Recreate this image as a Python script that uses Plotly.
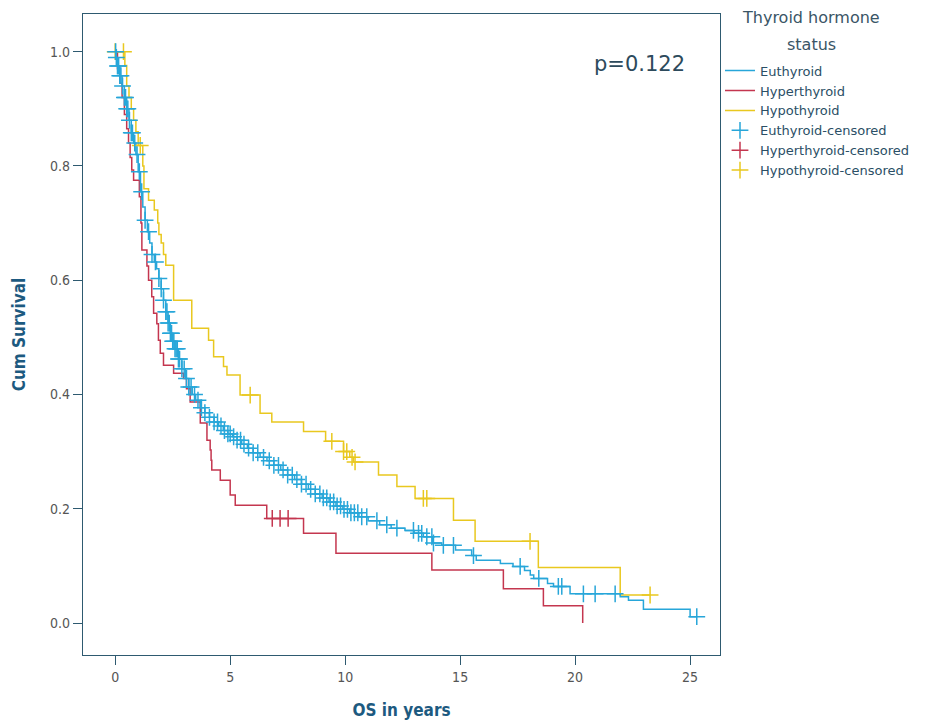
import numpy as np
import plotly.graph_objects as go

# ---------------- data ----------------
eu_time = [0, 0.03, 0.1, 0.2, 0.3, 0.4, 0.5, 0.6, 0.7, 0.8, 0.9, 1.0, 1.1, 1.2, 1.3, 1.4, 1.5,
           1.6, 1.7, 1.8, 1.9, 2.0, 2.1, 2.2, 2.3, 2.4, 2.5, 2.6, 2.75, 2.9, 3.05, 3.2, 3.35,
           3.5, 3.7, 3.9, 4.1, 4.3, 4.5, 4.7, 4.9, 5.1, 5.3, 5.5, 5.75, 6.0, 6.3, 6.6, 6.9,
           7.2, 7.5, 7.8, 8.1, 8.4, 8.7, 9.0, 9.3, 9.6, 9.9, 10.2, 10.6, 11.0, 11.5, 12.0,
           12.6, 13.0, 13.4, 13.8, 14.2, 14.8, 15.5, 15.7, 16.75, 17.3, 17.8, 18.05, 18.2,
           18.8, 19.06, 19.78, 21.96, 22.32, 22.97, 25.0]
eu_surv = [1.0, 0.99, 0.975, 0.958, 0.94, 0.92, 0.90, 0.88, 0.858, 0.84, 0.82, 0.79, 0.755,
           0.728, 0.705, 0.685, 0.665, 0.645, 0.632, 0.62, 0.603, 0.585, 0.565, 0.545, 0.525,
           0.507, 0.493, 0.48, 0.462, 0.445, 0.428, 0.413, 0.40, 0.39, 0.377, 0.368, 0.36,
           0.352, 0.345, 0.337, 0.331, 0.326, 0.32, 0.313, 0.306, 0.298, 0.29, 0.284, 0.276,
           0.268, 0.259, 0.251, 0.243, 0.234, 0.226, 0.219, 0.212, 0.205, 0.199, 0.193, 0.186,
           0.179, 0.172, 0.166, 0.162, 0.157, 0.151, 0.14, 0.136, 0.128, 0.118, 0.110, 0.104,
           0.099, 0.092, 0.084, 0.078, 0.069, 0.064, 0.051, 0.046, 0.040, 0.024, 0.011]
eu_cens = [0.02, 0.05, 0.1, 0.15, 0.2, 0.25, 0.32, 0.4, 0.45, 0.5, 0.55, 0.62, 0.7, 0.75, 0.85,
           0.95, 1.05, 1.15, 1.3, 1.45, 1.6, 1.75, 1.9, 2.0, 2.1, 2.2, 2.25, 2.3, 2.35, 2.4,
           2.45, 2.5, 2.55, 2.6, 2.65, 2.7, 2.75, 2.8, 2.9, 3.0, 3.1, 3.2, 3.3, 3.45, 3.6, 3.75,
           3.9, 4.1, 4.3, 4.45, 4.6, 4.75, 4.9, 5.0, 5.15, 5.3, 5.45, 5.6, 5.8, 6.0, 6.2, 6.45,
           6.7, 6.9, 7.1, 7.3, 7.5, 7.7, 7.9, 8.1, 8.3, 8.5, 8.7, 8.9, 9.05, 9.2, 9.35, 9.5,
           9.65, 9.8, 9.95, 10.1, 10.25, 10.4, 10.55, 10.72, 10.94, 11.38, 11.81, 12.25, 12.97,
           13.19, 13.33, 13.55, 13.77, 13.84, 14.27, 14.71, 15.58, 17.61, 18.42, 19.27, 19.42,
           20.36, 20.87, 21.74, 25.29]

hyper_time = [0, 0.1, 0.2, 0.3, 0.4, 0.5, 0.58, 0.65, 0.72, 0.8, 1.05, 1.12, 1.16, 1.38, 1.45,
              1.59, 1.67, 1.81, 1.88, 1.96, 2.10, 2.54, 2.97, 3.1, 3.26, 3.70, 3.99, 4.13,
              4.17, 4.20, 4.57, 5.0, 5.22, 6.59, 8.19, 9.6, 13.77, 16.88, 18.62, 20.33]
hyper_surv = [1.0, 0.97, 0.945, 0.92, 0.89, 0.865, 0.84, 0.815, 0.793, 0.775, 0.746, 0.70,
              0.653, 0.625, 0.600, 0.571, 0.542, 0.524, 0.495, 0.472, 0.451, 0.437, 0.428,
              0.41, 0.387, 0.350, 0.320, 0.303, 0.285, 0.268, 0.250, 0.224, 0.206, 0.183,
              0.157, 0.122, 0.093, 0.060, 0.030, 0.0]
hyper_cens = [6.83, 7.17, 7.52]

hypo_time = [0, 0.42, 0.5, 0.6, 0.7, 0.8, 0.9, 1.0, 1.2, 1.25, 1.45, 1.7, 1.85, 1.9, 2.0, 2.1,
             2.2, 2.54, 3.33, 4.06, 4.28, 4.71, 4.86, 5.43, 6.30, 6.81, 8.19, 9.15, 9.93,
             10.2, 10.36, 11.45, 12.25, 13.04, 14.71, 15.65, 18.4, 21.96]
hypo_surv = [1.0, 0.976, 0.94, 0.92, 0.90, 0.88, 0.86, 0.836, 0.80, 0.76, 0.74, 0.723, 0.70,
             0.68, 0.665, 0.645, 0.626, 0.565, 0.516, 0.495, 0.466, 0.449, 0.434, 0.399,
             0.367, 0.352, 0.335, 0.318, 0.300, 0.29, 0.282, 0.259, 0.239, 0.218, 0.180,
             0.143, 0.097, 0.049]
hypo_cens = [0.0, 0.36, 1.09, 5.87, 9.42, 9.93, 10.07, 10.3, 10.43, 13.4, 13.55, 18.04, 23.26]

groups = ["Euthyroid", "Hyperthyroid", "Hypothyroid"]
colors = {"Euthyroid": "#27a6d9", "Hyperthyroid": "#c4364f", "Hypothyroid": "#e9c81f"}
p_text = "p=0.122"
legend_title_lines = ["Thyroid hormone", "status"]
x_ticks = [0, 5, 10, 15, 20, 25]
y_ticks = [0.0, 0.2, 0.4, 0.6, 0.8, 1.0]

data = {
    "Euthyroid": (eu_time, eu_surv, eu_cens),
    "Hyperthyroid": (hyper_time, hyper_surv, hyper_cens),
    "Hypothyroid": (hypo_time, hypo_surv, hypo_cens),
}


def surv_at(times, surv, t):
    idx = np.searchsorted(np.array(times), np.array(t), side="right") - 1
    return list(np.array(surv)[np.clip(idx, 0, len(surv) - 1)])


fig = go.Figure()
draw_order = ["Hypothyroid", "Hyperthyroid", "Euthyroid"]
rank = {"Euthyroid": 1, "Hyperthyroid": 2, "Hypothyroid": 3}

for g in draw_order:
    t, s, c = data[g]
    t_line = list(t)
    s_line = list(s)
    last_c = max(c)
    if last_c > t_line[-1] and s_line[-1] > 0:
        t_line = t_line + [last_c]
        s_line = s_line + [s_line[-1]]
    fig.add_trace(go.Scatter(
        x=t_line, y=s_line, mode="lines", line=dict(shape="hv", color=colors[g], width=1.5),
        name=g, legendrank=rank[g], hoverinfo="skip"))

for g in draw_order:
    t, s, c = data[g]
    fig.add_trace(go.Scatter(
        x=c, y=surv_at(t, s, c), mode="markers",
        marker=dict(symbol="cross-thin", size=12, color=colors[g],
                    line=dict(color=colors[g], width=1.5)),
        name=g + "-censored", legendrank=rank[g] + 3, hoverinfo="skip"))

axis_col = "#2e5a70"
tick_font = dict(family="DejaVu Sans Condensed, DejaVu Sans", size=14, color="#555555")
title_font = dict(family="DejaVu Sans Condensed, DejaVu Sans", size=17, color="#1d5a80")
fig.update_xaxes(range=[-1.4, 26.3], tickvals=x_ticks, ticks="outside", ticklen=9,
                 tickcolor=axis_col, showline=True, linecolor=axis_col, linewidth=1.3,
                 mirror=True, showgrid=False, zeroline=False, automargin=False,
                 tickfont=tick_font,
                 title=dict(text="<b>OS in years</b>", standoff=20, font=title_font))
fig.update_yaxes(range=[-0.056, 1.066], tickvals=y_ticks, tickformat=".1f", ticks="outside",
                 ticklen=9, tickcolor=axis_col, showline=True, linecolor=axis_col, linewidth=1.3,
                 mirror=True, showgrid=False, zeroline=False, automargin=False,
                 tickfont=tick_font,
                 title=dict(text="<b>Cum Survival</b>", standoff=20, font=title_font))

fig.add_annotation(text=p_text, xref="paper", yref="paper", x=0.874, y=0.922,
                   xanchor="center", yanchor="middle",
                   showarrow=False, font=dict(family="DejaVu Sans", size=21, color="#2d4a5c"))

title_font_leg = dict(family="DejaVu Sans", size=16, color="#3a5566")
fig.add_annotation(text=legend_title_lines[0], xref="paper", yref="paper", x=1.143, y=0.995,
                   xanchor="center", yanchor="middle", showarrow=False, font=title_font_leg)
fig.add_annotation(text=legend_title_lines[1], xref="paper", yref="paper", x=1.143, y=0.952,
                   xanchor="center", yanchor="middle", showarrow=False, font=title_font_leg)

fig.update_layout(
    width=934, height=720, plot_bgcolor="white", paper_bgcolor="white",
    margin=dict(l=75, r=222, t=6, b=73),
    legend=dict(x=1.0, xanchor="left", y=0.935, yanchor="top", itemwidth=30,
                font=dict(family="DejaVu Sans", size=13, color="#2b4f66"),
                bgcolor="rgba(0,0,0,0)", tracegroupgap=0),
)

fig.write_html("out.html")
